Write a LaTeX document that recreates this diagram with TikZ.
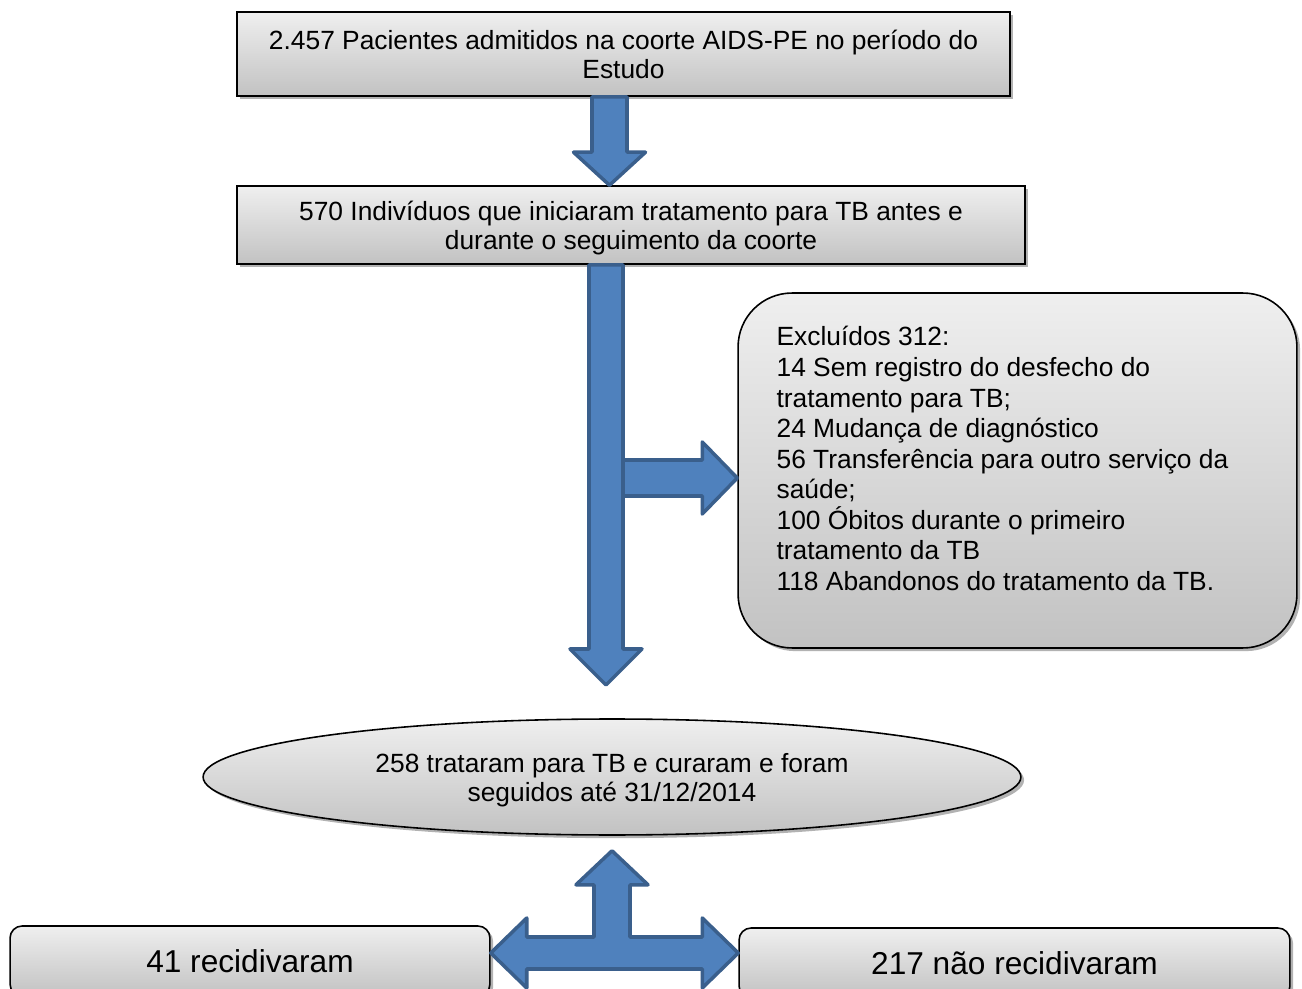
\documentclass[tikz,border=0pt]{standalone}
\usepackage{fontspec}
\setmainfont{Liberation Sans}
\usetikzlibrary{positioning, shapes.geometric, shadows, calc}

\definecolor{boxtop}{HTML}{EFEFEF}
\definecolor{boxbottom}{HTML}{C2C2C2}
\definecolor{arrowfill}{HTML}{4F81BD}
\definecolor{arrowline}{HTML}{3A5F8C}

\begin{document}
\begin{tikzpicture}[x=0.02cm, y=-0.02cm]
    % Styles
    \tikzset{
        flowbox/.style={rectangle, draw, line width=0.9pt, top color=boxtop, bottom color=boxbottom, align=center, inner sep=0pt, font=\fontsize{15}{16.5}\selectfont, drop shadow={shadow xshift=1.8pt, shadow yshift=-1.8pt, opacity=0.3, fill=black}},
        endbox/.style={flowbox, rounded corners=0.24cm, minimum height=1.4cm, font=\fontsize{18}{20}\selectfont},
        list_text/.style={align=left, inner sep=0pt, font=\fontsize{15}{17.4}\selectfont},
        blockarrow/.style={fill=arrowfill, draw=arrowline, line width=2pt, line join=round}
    }

    \useasboundingbox (0,0) rectangle (1302,989);
    \fill[white] (0,0) rectangle (1302,989);
    \clip (0,0) rectangle (1302,989);

    % --- Nodes ---

    % Cohort
    \node[flowbox, minimum width=15.46cm, minimum height=1.68cm] (cohort) at (623.5,54) {2.457 Pacientes admitidos na coorte AIDS-PE no período do\\Estudo};

    % Started TB treatment
    \node[flowbox, minimum width=15.76cm, minimum height=1.56cm, text depth=0pt] (tbstart) at (631,225) {570 Indivíduos que iniciaram tratamento para TB antes e\\durante o seguimento da coorte};

    % Excluded
    \node[flowbox, rounded corners=1.08cm, minimum width=11.18cm, minimum height=7.1cm] (excl) at (1017.5,470.5) {};
    \node[list_text, below right=0.68cm and 0.78cm of excl.north west] (excl_list) {Excluídos 312:\\14 Sem registro do desfecho do\\tratamento para TB;\\24 Mudança de diagnóstico\\56 Transferência para outro serviço da\\saúde;\\100 Óbitos durante o primeiro\\tratamento da TB\\118 Abandonos do tratamento da TB.};

    % Cured
    \node[flowbox, ellipse, minimum width=16.36cm, minimum height=2.32cm, text depth=0pt] (cured) at (612,777) {258 trataram para TB e curaram e foram\\seguidos até 31/12/2014};

    % Outcomes
    \node[endbox, minimum width=9.6cm] (relapse) at (250,961) {41 recidivaram};
    \node[endbox, minimum width=11.02cm] (norelapse) at (1014.5,963) {217 não recidivaram};

    % --- Connections ---
    \coordinate (spine) at (609.5,0);
    \coordinate (stem) at (606,685);
    \coordinate (hub) at (612,953);
    \coordinate (branch_tip) at ($(excl.west)+(0,7.5)$);
    \coordinate (up_tip) at ($(hub |- cured.south)+(0,15)$);
    \coordinate (left_tip) at (relapse.east |- hub);
    \coordinate (right_tip) at (norelapse.west |- hub);

    % Cohort to started treatment
    \draw[blockarrow] ($(spine |- cohort.south)+(-17.5,0)$) -- ($(spine |- tbstart.north)+(-17.5,-33)$) -- ($(spine |- tbstart.north)+(-36,-33)$) -- (spine |- tbstart.north) -- ($(spine |- tbstart.north)+(36,-33)$) -- ($(spine |- tbstart.north)+(17.5,-33)$) -- ($(spine |- cohort.south)+(17.5,0)$) -- cycle;

    % Branch to excluded
    \draw[blockarrow] ($(stem |- branch_tip)+(0,-18)$) -- ($(branch_tip)+(-35,-18)$) -- ($(branch_tip)+(-35,-36)$) -- (branch_tip) -- ($(branch_tip)+(-35,36)$) -- ($(branch_tip)+(-35,18)$) -- ($(stem |- branch_tip)+(0,18)$) -- cycle;

    % Started treatment to cured
    \draw[blockarrow] ($(stem |- tbstart.south)+(-17,0)$) -- ($(stem)+(-17,-36)$) -- ($(stem)+(-36,-36)$) -- (stem) -- ($(stem)+(36,-36)$) -- ($(stem)+(17,-36)$) -- ($(stem |- tbstart.south)+(17,0)$) -- cycle;

    % Cured to outcomes
    \draw[blockarrow] (up_tip) -- ($(up_tip)+(36,34)$) -- ($(up_tip)+(18,34)$) -- ($(hub)+(18,-16)$)
        -- ($(right_tip)+(-36,-16)$) -- ($(right_tip)+(-36,-35)$) -- (right_tip) -- ($(right_tip)+(-36,35)$) -- ($(right_tip)+(-36,16)$)
        -- ($(left_tip)+(36,16)$) -- ($(left_tip)+(36,35)$) -- (left_tip) -- ($(left_tip)+(36,-35)$) -- ($(left_tip)+(36,-16)$)
        -- ($(hub)+(-18,-16)$) -- ($(up_tip)+(-18,34)$) -- ($(up_tip)+(-36,34)$) -- cycle;

\end{tikzpicture}
\end{document}
